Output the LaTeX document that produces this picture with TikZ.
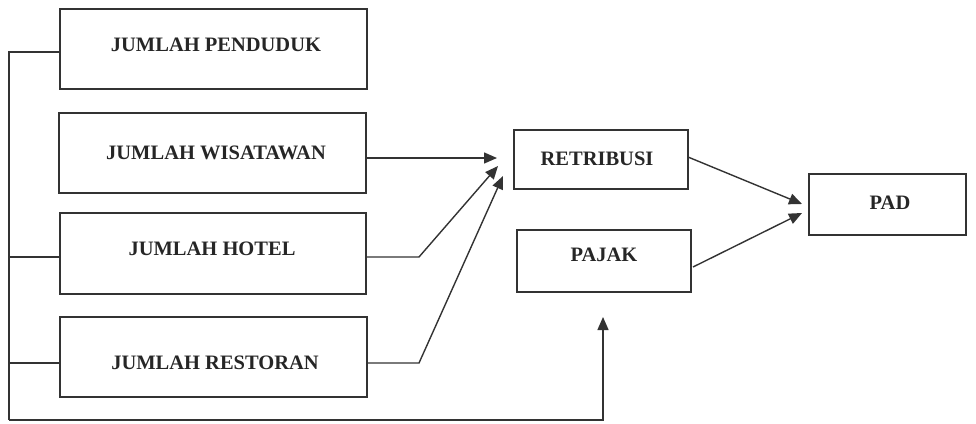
\documentclass[tikz,border=0pt]{standalone}
\usepackage{fontspec}
\setmainfont{Liberation Serif}
\usetikzlibrary{arrows.meta}
\begin{document}
\begin{tikzpicture}[x=1pt,y=-1pt,
  box/.style={draw=black!80,line width=1.5pt,rectangle,inner sep=0pt},
  lbl/.style={font=\fontsize{20.5}{22}\selectfont\bfseries,text=black!85,inner sep=0pt},
  con/.style={draw=black!80,line width=1.4pt},
  arr/.style={con,-{Triangle[length=13pt,width=11pt]}}]
\useasboundingbox (0,0) rectangle (976,423);
% boxes
\node[box,minimum width=307pt,minimum height=80pt] (pend) at (213.5,49) {};
\node[box,minimum width=307pt,minimum height=80pt] (wisa) at (212.5,153) {};
\node[box,minimum width=306pt,minimum height=81pt] (hotel) at (213,253.5) {};
\node[box,minimum width=307pt,minimum height=80pt] (rest) at (213.5,357) {};
\node[box,minimum width=174pt,minimum height=59pt] (retr) at (601,159.5) {};
\node[box,minimum width=174pt,minimum height=62pt] (pajak) at (604,261) {};
\node[box,minimum width=157pt,minimum height=61pt] (pad) at (887.5,204.5) {};
% labels
\node[lbl] (tpend) at (216,45) {JUMLAH PENDUDUK};
\node[lbl] (twisa) at (216,153) {JUMLAH WISATAWAN};
\node[lbl] (thotel) at (212,249) {JUMLAH HOTEL};
\node[lbl] (trest) at (215,363) {JUMLAH RESTORAN};
\node[lbl] (tretr) at (597,159) {RETRIBUSI};
\node[lbl] (tpajak) at (604,255) {PAJAK};
\node[lbl] (tpad) at (890,203) {PAD};
% coordinates
\coordinate (pendL) at (60,52);
\coordinate (hotelL) at (60,257);
\coordinate (restL) at (60,363);
\coordinate (trTop) at (9,52);
\coordinate (trBot) at (9,420);
\coordinate (bend) at (603,420);
\coordinate (pajIn) at (603,317);
\coordinate (wisaR) at (366,158);
\coordinate (hotelR) at (366,257);
\coordinate (restR) at (367,363);
\coordinate (hotelK) at (419,257);
\coordinate (restK) at (419,363);
\coordinate (rin1) at (497,158);
\coordinate (rin2) at (498,166);
\coordinate (rin3) at (503,176);
\coordinate (retrR) at (688,157);
\coordinate (pajR) at (693,267);
\coordinate (padin1) at (802,204);
\coordinate (padin2) at (802,213);
% connectors
\draw[con] (pendL) -- (trTop) -- (trBot);
\draw[con] (hotelL) -- (hotelL -| trTop);
\draw[con] (restL) -- (restL -| trTop);
\draw[arr] (trBot) -- (bend) -- (pajIn);
\draw[arr] (wisaR) -- (rin1);
\draw[arr] (hotelR) -- (hotelK) -- (rin2);
\draw[arr] (restR) -- (restK) -- (rin3);
\draw[arr] (retrR) -- (padin1);
\draw[arr] (pajR) -- (padin2);
\end{tikzpicture}
\end{document}
